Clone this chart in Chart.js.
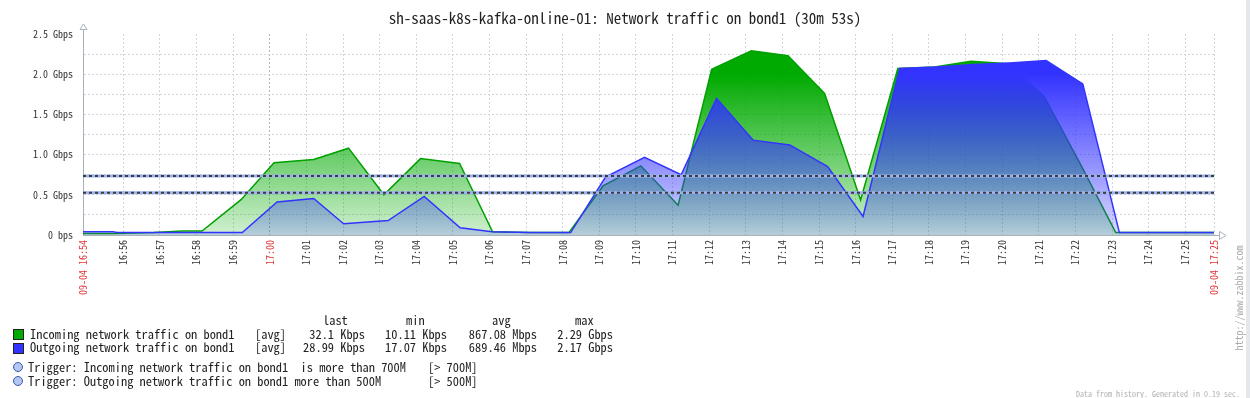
<!DOCTYPE html>
<html>
<head>
<meta charset="utf-8">
<title>Network traffic on bond1</title>
<script src="https://cdn.jsdelivr.net/npm/chart.js@4.4.1/dist/chart.umd.min.js"></script>
<style>
  html, body { margin: 0; padding: 0; background: #fff; }
  #wrap { position: relative; width: 1250px; height: 398px; overflow: hidden; color: #222;
          font-family: "Noto Sans Mono CJK SC", "DejaVu Sans Mono", monospace; }
  #graph { position: absolute; left: 0; top: 0; }
  .t { position: absolute; white-space: pre; font-size: 12.4px; line-height: 14px; }
  #title { position: absolute; left: 0; top: 9px; width: 1250px; text-align: center; font-size: 15px; line-height: 17px; color: #222; white-space: pre; }
  .box { position: absolute; width: 9px; height: 9px; border: 1px solid #222; }
  .dot { position: absolute; width: 8px; height: 8px; border-radius: 50%; border: 1px solid #3b5aa8; background: #b4c6f2; }
  #site { position: absolute; left: 1238px; top: 298px; transform: translate(-50%, -50%) rotate(-90deg); font-size: 10px; color: #a8a8a8; white-space: pre; }
  #gen { position: absolute; right: 10px; top: 388px; font-size: 8px; color: #b0b0b0; white-space: pre; }
  #edge { position: absolute; right: 0; top: 0; width: 4px; height: 398px; background: #e4e8ec; }
</style>
</head>
<body>
<div id="wrap">
  <canvas id="graph" width="1250" height="398"></canvas>
  <div id="title">sh-saas-k8s-kafka-online-01: Network traffic on bond1 (30m 53s)</div>
  <div id="legend"></div>
  <div id="site">http://www.zabbix.com</div>
  <div id="gen">Data from history. Generated in 0.19 sec.</div>
  <div id="edge"></div>
</div>
<script>
// time window of the graph
const axisStart = '16:54:54';
const axisEnd = '17:25:47';

// incoming traffic on bond1 (Gbps)
const inTimes = ['16:54:54', '16:55:45', '16:56:50', '16:57:37', '16:58:09', '16:59:13', '17:00:07', '17:01:12',
  '17:02:09', '17:03:07', '17:04:07', '17:05:11', '17:06:05', '17:07:06', '17:08:10', '17:09:06', '17:10:08',
  '17:11:09', '17:12:04', '17:13:09', '17:14:09', '17:15:09', '17:16:08', '17:17:09', '17:18:09', '17:19:09',
  '17:20:09', '17:21:09', '17:22:09', '17:23:06', '17:24:06', '17:25:06', '17:25:47'];
const inValues = [0.02, 0.02, 0.03, 0.05, 0.05, 0.44, 0.90, 0.94,
  1.08, 0.50, 0.95, 0.89, 0.04, 0.03, 0.03, 0.61, 0.86,
  0.37, 2.06, 2.29, 2.23, 1.76, 0.435, 2.07, 2.09, 2.16,
  2.13, 1.72, 0.87, 0.03, 0.03, 0.03, 0.03];

// outgoing traffic on bond1 (Gbps)
const outTimes = ['16:54:54', '16:55:43', '16:55:50', '16:57:00', '16:58:00', '16:59:15', '17:00:12', '17:01:12',
  '17:02:01', '17:03:14', '17:04:13', '17:05:12', '17:06:04', '17:07:06', '17:08:13', '17:09:10', '17:10:14',
  '17:11:14', '17:12:12', '17:13:12', '17:14:12', '17:15:14', '17:16:12', '17:17:12', '17:18:12', '17:19:12',
  '17:20:12', '17:21:12', '17:22:12', '17:23:12', '17:24:12', '17:25:12', '17:25:47'];
const outValues = [0.04, 0.04, 0.03, 0.03, 0.03, 0.03, 0.41, 0.455,
  0.14, 0.18, 0.48, 0.09, 0.04, 0.03, 0.03, 0.72, 0.965,
  0.75, 1.70, 1.18, 1.12, 0.85, 0.23, 2.07, 2.09, 2.12,
  2.14, 2.17, 1.88, 0.03, 0.03, 0.03, 0.03];

// trigger thresholds: 700M and 500M (binary M) in Gbps
const triggerValues = [0.734, 0.524];

// axis ticks
const xTickLabels = ['09-04 16:54', '16:56', '16:57', '16:58', '16:59', '17:00', '17:01', '17:02', '17:03', '17:04',
  '17:05', '17:06', '17:07', '17:08', '17:09', '17:10', '17:11', '17:12', '17:13', '17:14', '17:15', '17:16',
  '17:17', '17:18', '17:19', '17:20', '17:21', '17:22', '17:23', '17:24', '17:25', '09-04 17:25'];
const redTickLabels = ['09-04 16:54', '17:00', '09-04 17:25'];
const yTickValues = [0, 0.25, 0.5, 0.75, 1.0, 1.25, 1.5, 1.75, 2.0, 2.25, 2.5];
const yTickLabels = ['0 bps', '', '0.5 Gbps', '', '1.0 Gbps', '', '1.5 Gbps', '', '2.0 Gbps', '', '2.5 Gbps'];

// legend
const seriesNames = ['Incoming network traffic on bond1', 'Outgoing network traffic on bond1'];
const seriesColors = ['#00aa00', '#3333ff'];
const seriesLast = ['32.1 Kbps', '28.99 Kbps'];
const seriesMin = ['10.11 Kbps', '17.07 Kbps'];
const seriesAvg = ['867.08 Mbps', '689.46 Mbps'];
const seriesMax = ['2.29 Gbps', '2.17 Gbps'];
const triggerNames = ['Trigger: Incoming network traffic on bond1  is more than 700M',
  'Trigger: Outgoing network traffic on bond1 more than 500M'];
const triggerTags = ['[> 700M]', '[> 500M]'];

const toMin = s => {
  const p = s.split(':').map(Number);
  return p[0] * 60 + p[1] + (p[2] || 0) / 60 - (16 * 60 + 54);
};
const xMin = toMin(axisStart);
const xMax = toMin(axisEnd);
const xTickValues = xTickLabels.map((l, i) => {
  if (i === 0) return xMin;
  if (i === xTickLabels.length - 1) return xMax;
  return toMin(l);
});

const pts = (times, values) => times.map((t, i) => ({ x: toMin(t), y: values[i] }));

function fade(r, g, b) {
  return ctx => {
    const area = ctx.chart.chartArea;
    if (!area) return `rgba(${r},${g},${b},0.5)`;
    const grad = ctx.chart.ctx.createLinearGradient(0, area.top, 0, area.bottom);
    grad.addColorStop(0, `rgba(${r},${g},${b},1)`);
    grad.addColorStop(0.2, `rgba(${r},${g},${b},1)`);
    grad.addColorStop(1, `rgba(${r},${g},${b},0.18)`);
    return grad;
  };
}

const triggerSets = [];
triggerValues.forEach(v => {
  const line = [{ x: xMin, y: v }, { x: xMax, y: v }];
  triggerSets.push({ data: line, borderColor: '#9db3f2', borderWidth: 3, pointRadius: 0, fill: false, order: 1 });
  triggerSets.push({ data: line, borderColor: '#3c3c3c', borderWidth: 2, borderDash: [3, 3], pointRadius: 0, fill: false, order: 0 });
});

const axisArrows = {
  id: 'axisArrows',
  afterDraw(chart) {
    const { ctx, chartArea: a } = chart;
    const x0 = Math.round(a.left) + 0.5;
    const y0 = Math.round(a.bottom) + 0.5;
    ctx.save();
    ctx.strokeStyle = '#a9b1b9';
    ctx.fillStyle = '#fff';
    ctx.lineWidth = 1;
    ctx.beginPath();
    ctx.moveTo(x0, a.top); ctx.lineTo(x0, a.top - 5);
    ctx.moveTo(a.right, y0); ctx.lineTo(a.right + 5, y0);
    ctx.stroke();
    ctx.beginPath();
    ctx.moveTo(x0, a.top - 10); ctx.lineTo(x0 - 3.5, a.top - 4.5); ctx.lineTo(x0 + 3.5, a.top - 4.5); ctx.closePath();
    ctx.fill(); ctx.stroke();
    ctx.beginPath();
    ctx.moveTo(a.right + 12, y0); ctx.lineTo(a.right + 5.5, y0 - 4); ctx.lineTo(a.right + 5.5, y0 + 4); ctx.closePath();
    ctx.fill(); ctx.stroke();
    ctx.restore();
  }
};

const tickFont = { family: '"Noto Sans Mono CJK SC", "DejaVu Sans Mono", monospace', size: 10 };

new Chart(document.getElementById('graph'), {
  type: 'line',
  data: {
    datasets: [
      { data: pts(outTimes, outValues), borderColor: seriesColors[1], borderWidth: 1.5, backgroundColor: fade(51, 51, 255),
        fill: 'origin', pointRadius: 0, tension: 0, order: 2 },
      { data: pts(inTimes, inValues), borderColor: '#00a000', borderWidth: 1.5, backgroundColor: fade(0, 170, 0),
        fill: 'origin', pointRadius: 0, tension: 0, order: 3 },
      ...triggerSets
    ]
  },
  options: {
    responsive: false,
    animation: false,
    devicePixelRatio: 1,
    layout: { padding: { top: 34, right: 36, left: 0, bottom: 0 } },
    plugins: { legend: { display: false }, tooltip: { enabled: false }, title: { display: false } },
    scales: {
      x: {
        type: 'linear',
        min: xMin,
        max: xMax,
        afterFit: s => { s.height = 163; },
        afterBuildTicks: s => { s.ticks = xTickValues.map(v => ({ value: v })); },
        grid: {
          drawTicks: false,
          color: c => (c.tick && xTickLabels[c.index] === '17:00') ? '#aab2ba' : '#d0d6dc'
        },
        border: { display: true, color: '#a9b1b9', width: 1, dash: [2, 2] },
        ticks: {
          autoSkip: false,
          minRotation: 90,
          maxRotation: 90,
          padding: 5,
          font: tickFont,
          color: c => redTickLabels.includes(xTickLabels[c.index]) ? '#e03535' : '#333',
          callback: (v, i) => xTickLabels[i]
        }
      },
      y: {
        min: 0,
        max: 2.5,
        afterFit: s => { s.width = 83; },
        afterBuildTicks: s => { s.ticks = yTickValues.map(v => ({ value: v })); },
        grid: {
          drawTicks: false,
          color: c => (c.tick && c.tick.value === 2.5) ? 'rgba(0,0,0,0)' : '#d0d6dc'
        },
        border: { display: true, color: '#a9b1b9', width: 1, dash: [2, 2] },
        ticks: {
          padding: 10,
          font: tickFont,
          color: '#333',
          callback: (v, i) => yTickLabels[i]
        }
      }
    }
  },
  plugins: [axisArrows]
});

// legend below the graph
const legend = document.getElementById('legend');
function put(text, style) {
  const el = document.createElement('div');
  el.className = 't';
  el.textContent = text;
  Object.assign(el.style, style);
  legend.appendChild(el);
}
const rowTop = [326.5, 340];
const colRight = [365, 447, 537, 613];
[['last', 323], ['min', 406], ['avg', 492], ['max', 575]].forEach(([h, x]) => put(h, { left: x + 'px', top: '313px' }));
seriesNames.forEach((name, i) => {
  const box = document.createElement('div');
  box.className = 'box';
  box.style.left = '13px';
  box.style.top = (rowTop[i] + 2.5) + 'px';
  box.style.background = seriesColors[i];
  legend.appendChild(box);
  put(name, { left: '30px', top: rowTop[i] + 'px' });
  put('[avg]', { left: '255px', top: rowTop[i] + 'px' });
  [seriesLast[i], seriesMin[i], seriesAvg[i], seriesMax[i]].forEach((v, k) =>
    put(v, { right: (1250 - colRight[k]) + 'px', top: rowTop[i] + 'px' }));
});
const trigTop = [360, 373.5];
triggerNames.forEach((name, i) => {
  const dot = document.createElement('div');
  dot.className = 'dot';
  dot.style.left = '13px';
  dot.style.top = (trigTop[i] + 2) + 'px';
  legend.appendChild(dot);
  put(name, { left: '28px', top: trigTop[i] + 'px' });
  put(triggerTags[i], { left: '428px', top: trigTop[i] + 'px' });
});
</script>
</body>
</html>
